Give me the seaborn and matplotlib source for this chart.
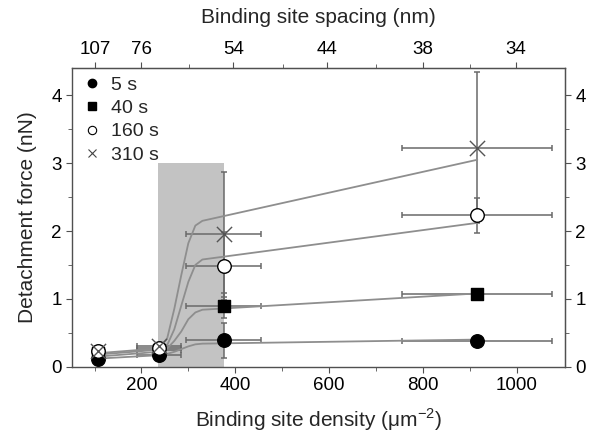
import numpy as np
import pandas as pd
import matplotlib
matplotlib.use("Agg")
import matplotlib.pyplot as plt
import seaborn as sns

# measured points (binding site density in um^-2)
density = [108, 237, 375, 916]
density_err = [8, 47, 80, 160]

series = ["5 s", "40 s", "160 s", "310 s"]
force_5s = [0.12, 0.17, 0.39, 0.38]
force_40s = [0.20, 0.24, 0.90, 1.07]
force_160s = [0.23, 0.27, 1.48, 2.23]
force_310s = [0.23, 0.30, 1.95, 3.23]
err_5s = [0.03, 0.04, 0.26, 0.04]
err_40s = [0.03, 0.04, 0.18, 0.08]
err_160s = [0.05, 0.05, 0.50, 0.26]
err_310s = [0.05, 0.05, 0.92, 1.11]

# fitted curves
fit_x = [108, 237, 255, 270, 285, 300, 315, 330, 916]
fit_5s = [0.12, 0.17, 0.19, 0.22, 0.26, 0.30, 0.33, 0.34, 0.40]
fit_40s = [0.15, 0.22, 0.27, 0.38, 0.52, 0.70, 0.80, 0.84, 1.08]
fit_160s = [0.18, 0.25, 0.32, 0.55, 0.90, 1.25, 1.50, 1.58, 2.12]
fit_310s = [0.20, 0.27, 0.42, 0.85, 1.35, 1.82, 2.08, 2.15, 3.05]

# shaded density window
shade_lo, shade_hi, shade_top = 235, 375, 3.0

# top axis: hexagonal lattice spacing (nm)
spacing_ticks = [107, 76, 54, 44, 38, 34]
spacing_minor = [62, 48, 40.6, 35.8]

forces = [force_5s, force_40s, force_160s, force_310s]
errs = [err_5s, err_40s, err_160s, err_310s]
fits = [fit_5s, fit_40s, fit_160s, fit_310s]

pts = pd.DataFrame({
    "density": density * 4,
    "xerr": density_err * 4,
    "force": sum(forces, []),
    "yerr": sum(errs, []),
    "time": np.repeat(series, len(density)),
})
fit_df = pd.DataFrame({
    "density": fit_x * 4,
    "force": sum(fits, []),
    "time": np.repeat(series, len(fit_x)),
})

sns.set_style("ticks")
plt.rcParams["font.family"] = ["Liberation Sans", "DejaVu Sans"]
plt.rcParams["mathtext.fontset"] = "custom"
plt.rcParams["mathtext.rm"] = "Liberation Sans"
plt.rcParams["axes.edgecolor"] = "#505050"
plt.rcParams["xtick.color"] = "#505050"
plt.rcParams["ytick.color"] = "#505050"
plt.rcParams["xtick.labelcolor"] = "black"
plt.rcParams["ytick.labelcolor"] = "black"

TICK_FS = 13.5
LABEL_FS = 15

fig = plt.figure(figsize=(5.92, 4.34), dpi=100)
ax = fig.add_axes([0.1216, 0.155, 0.8328, 0.688])

ax.axvspan(shade_lo, shade_hi, ymin=0, ymax=shade_top / 4.4,
           color="#c3c3c3", lw=0, zorder=0)

for name in series:
    d = pts[pts["time"] == name]
    ax.errorbar(d["density"], d["force"], xerr=d["xerr"], yerr=d["yerr"],
                fmt="none", ecolor="#6a6a6a", elinewidth=1.1, capsize=2.5,
                capthick=1.1, zorder=2)

sns.lineplot(data=fit_df, x="density", y="force", units="time",
             estimator=None, color="#8e8e8e", lw=1.3, ax=ax, zorder=3,
             legend=False)

styles = {
    "5 s": dict(marker="o", s=95, color="black", edgecolor="black"),
    "40 s": dict(marker="s", s=80, color="black", edgecolor="black"),
    "160 s": dict(marker="o", s=95, color="white", edgecolor="black"),
    "310 s": dict(marker="x", s=120, color="#555555"),
}
for name in series:
    d = pts[pts["time"] == name]
    sns.scatterplot(x=d["density"], y=d["force"], ax=ax, zorder=4,
                    linewidth=1.0, legend=False, **styles[name])

# legend with small markers
handles = [
    plt.Line2D([], [], ls="none", marker="o", ms=6, mfc="black", mec="black"),
    plt.Line2D([], [], ls="none", marker="s", ms=5.5, mfc="black", mec="black"),
    plt.Line2D([], [], ls="none", marker="o", ms=6, mfc="white", mec="black", mew=0.8),
    plt.Line2D([], [], ls="none", marker="x", ms=6, mec="#444444", mew=0.8),
]
ax.legend(handles, series, loc="upper left", frameon=False, fontsize=14,
          handletextpad=0.5, labelspacing=0.3, borderaxespad=0.0,
          handlelength=1.0, bbox_to_anchor=(0.005, 1.0))

ax.set_xlim(52, 1103)
ax.set_ylim(0, 4.4)
ax.set_xticks([200, 400, 600, 800, 1000])
ax.set_xticks([100, 300, 500, 700, 900], minor=True)
ax.set_yticks([0, 1, 2, 3, 4])
ax.set_yticks([0.5, 1.5, 2.5, 3.5], minor=True)
ax.tick_params(which="both", direction="out", labelsize=TICK_FS)
ax.tick_params(which="major", length=4)
ax.tick_params(which="minor", length=3)
ax.set_xlabel("Binding site density (μm$^{-2}$)", fontsize=LABEL_FS, labelpad=9)
ax.set_ylabel("Detachment force (nN)", fontsize=LABEL_FS, labelpad=10)

for sp in ax.spines.values():
    sp.set_visible(True)
    sp.set_linewidth(1.0)


def dens_to_spacing(x):
    x = np.asarray(x, dtype=float)
    return np.sqrt(1.1547e6 / np.clip(x, 1e-6, None))


def spacing_to_dens(s):
    s = np.asarray(s, dtype=float)
    return 1.1547e6 / np.clip(s, 1e-6, None) ** 2


top = ax.secondary_xaxis("top", functions=(dens_to_spacing, spacing_to_dens))
top.set_xticks(spacing_ticks)
top.set_xticklabels([str(s) for s in spacing_ticks])
top.set_xticks(spacing_minor, minor=True)
top.tick_params(which="both", direction="out", labelsize=TICK_FS)
top.tick_params(which="major", length=4)
top.tick_params(which="minor", length=3)
top.set_xlabel("Binding site spacing (nm)", fontsize=LABEL_FS, labelpad=13)

right = ax.secondary_yaxis("right")
right.set_yticks([0, 1, 2, 3, 4])
right.set_yticks([0.5, 1.5, 2.5, 3.5], minor=True)
right.tick_params(which="both", direction="out", labelsize=TICK_FS)
right.tick_params(which="major", length=4)
right.tick_params(which="minor", length=3)

fig.savefig("out.png", dpi=100)
